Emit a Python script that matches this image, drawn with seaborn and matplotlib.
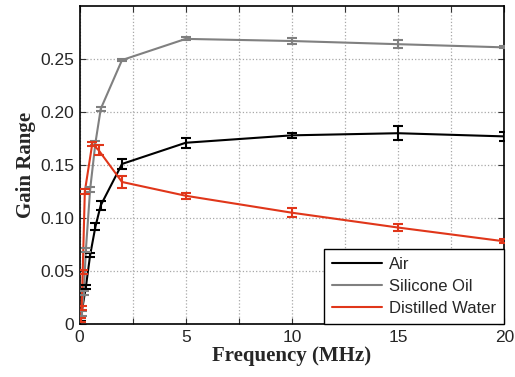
import seaborn as sns
import matplotlib.pyplot as plt
import pandas as pd
from matplotlib.ticker import MultipleLocator

# Datos
freq_air = [0.05, 0.3, 0.5, 0.75, 1, 2, 5, 10, 15, 20]
gain_air = [0.005, 0.035, 0.065, 0.092, 0.112, 0.151, 0.171, 0.178, 0.180, 0.177]
err_air = [0.002, 0.002, 0.002, 0.003, 0.004, 0.005, 0.0047, 0.0023, 0.0066, 0.004]

freq_oil = [0.05, 0.1, 0.2, 0.3, 0.5, 0.75, 1, 2, 5, 10, 15, 20]
gain_oil = [0.004, 0.010, 0.029, 0.070, 0.127, 0.171, 0.203, 0.249, 0.269, 0.267, 0.264, 0.261]
err_oil = [0.002, 0.002, 0.002, 0.002, 0.002, 0.002, 0.002, 0.001, 0.0015, 0.0025, 0.004, 0.001]

freq_water = [0.05, 0.1, 0.15, 0.25, 0.6, 0.9, 2, 5, 10, 15, 20]
gain_water = [0.004, 0.015, 0.049, 0.125, 0.170, 0.164, 0.134, 0.121, 0.105, 0.091, 0.078]
err_water = [0.002, 0.002, 0.002, 0.002, 0.002, 0.005, 0.006, 0.003, 0.004, 0.003, 0.002]

medios = ["Air", "Silicone Oil", "Distilled Water"]
colores = ["#000000", "#808080", "#E0361A"]

df = pd.concat([
    pd.DataFrame({"freq": freq_air, "gain": gain_air, "err": err_air, "medio": "Air"}),
    pd.DataFrame({"freq": freq_oil, "gain": gain_oil, "err": err_oil, "medio": "Silicone Oil"}),
    pd.DataFrame({"freq": freq_water, "gain": gain_water, "err": err_water, "medio": "Distilled Water"}),
])

sns.set_style("ticks")
plt.rcParams["font.family"] = ["Liberation Sans", "DejaVu Sans"]

fig = plt.figure(figsize=(5.15, 3.77), dpi=100)
ax = fig.add_axes([0.1544, 0.1406, 0.8248, 0.8434])

sns.lineplot(data=df, x="freq", y="gain", hue="medio", hue_order=medios,
             palette=colores, linewidth=1.5, ax=ax, zorder=3)

#Barras de error
for medio, color in zip(medios, colores):
    d = df[df["medio"] == medio]
    ax.errorbar(d["freq"], d["gain"], yerr=d["err"], fmt="none", ecolor=color,
                elinewidth=1.5, capsize=3.5, capthick=1.5, zorder=3)

ax.set_xlim(0, 20)
ax.set_ylim(0, 0.3)
ax.xaxis.set_major_locator(MultipleLocator(5))
ax.xaxis.set_minor_locator(MultipleLocator(2.5))
ax.set_yticks([0, 0.05, 0.10, 0.15, 0.20, 0.25])
ax.set_yticklabels(["0", "0.05", "0.10", "0.15", "0.20", "0.25"])
ax.grid(which="both", axis="x", linestyle=":", color="#a8a8a8", linewidth=0.9)
ax.grid(which="major", axis="y", linestyle=":", color="#a8a8a8", linewidth=0.9)
ax.tick_params(which="both", direction="in", top=True, right=True, labelsize=12.5,
               length=4, width=0.8, color="#333333", pad=4)
for s in ax.spines.values():
    s.set_linewidth(1.2)
    s.set_color("black")

ax.set_xlabel("Frequency (MHz)", family="Liberation Serif", fontweight="bold", fontsize=15, labelpad=1)
ax.set_ylabel("Gain Range", family="Liberation Serif", fontweight="bold", fontsize=15, labelpad=3)

leg = ax.legend(loc="lower right", fontsize=12, frameon=True, fancybox=False,
                borderaxespad=0, handlelength=3.0, handletextpad=0.4,
                borderpad=0.5, labelspacing=0.4)
leg.get_frame().set_edgecolor("black")
leg.get_frame().set_linewidth(1.0)
leg.get_frame().set_alpha(1)
leg.set_title(None)

plt.savefig("out.png", dpi=100)
